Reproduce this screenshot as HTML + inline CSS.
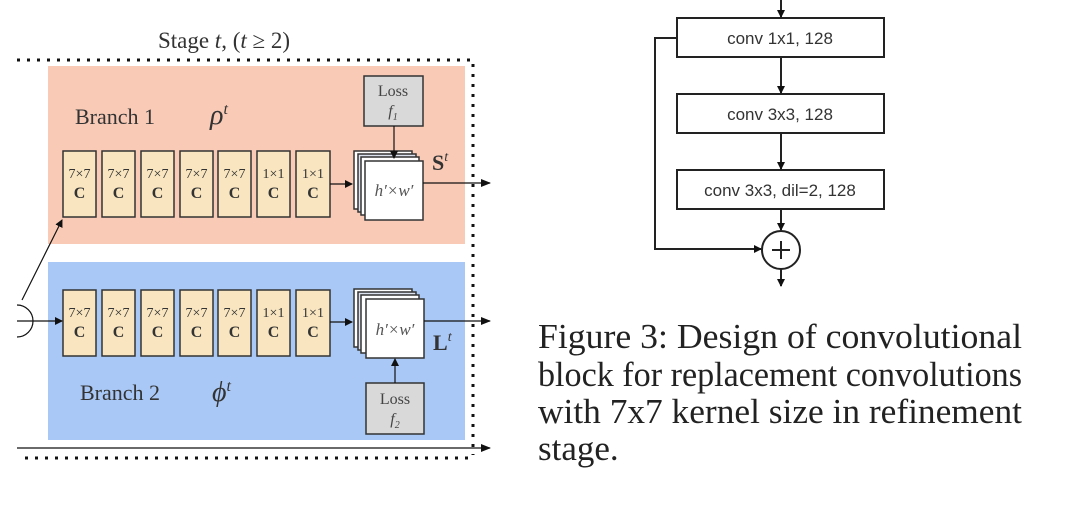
<!DOCTYPE html>
<html><head><meta charset="utf-8"><style>body{margin:0;background:#fff}svg{display:block}</style></head>
<body>
<svg width="1080" height="513" viewBox="0 0 1080 513" xmlns="http://www.w3.org/2000/svg" font-family="Liberation Serif, serif">
<defs><marker id="a" markerWidth="8" markerHeight="8" refX="7" refY="4" orient="auto" markerUnits="userSpaceOnUse"><path d="M0,0 L8,4 L0,8z" fill="#111"/></marker>
<marker id="b" markerWidth="10" markerHeight="10" refX="9" refY="5" orient="auto" markerUnits="userSpaceOnUse"><path d="M0,1 L10,5 L0,9z" fill="#111"/></marker></defs>
<text x="224" y="48" font-size="23" text-anchor="middle" fill="#333">Stage <tspan font-style="italic">t</tspan>, (<tspan font-style="italic">t</tspan> ≥ 2)</text>
<rect x="48" y="66" width="417" height="178" fill="#f9cbb7"/>
<rect x="48" y="262" width="417" height="178" fill="#a9c8f5"/>
<line x1="17" y1="60" x2="470" y2="60" stroke="#111" stroke-width="3" stroke-dasharray="3,7"/>
<line x1="473" y1="64" x2="473" y2="455" stroke="#111" stroke-width="3" stroke-dasharray="3,7"/>
<line x1="25" y1="458" x2="470" y2="458" stroke="#111" stroke-width="3" stroke-dasharray="3,7"/>
<text x="75" y="124" font-size="22" fill="#333">Branch 1</text>
<text x="210" y="124" font-size="28" font-style="italic" fill="#333">ρ<tspan font-size="16" dy="-10">t</tspan></text>
<text x="80" y="400" font-size="22" fill="#333">Branch 2</text>
<text x="212" y="401" font-size="28" font-style="italic" fill="#333">ϕ<tspan font-size="16" dy="-10">t</tspan></text>
<g stroke="#333" stroke-width="1.5" fill="#f9e6c0">
<rect x="63" y="151" width="33" height="66"/><rect x="102" y="151" width="33" height="66"/><rect x="141" y="151" width="33" height="66"/><rect x="180" y="151" width="33" height="66"/><rect x="218" y="151" width="33" height="66"/><rect x="257" y="151" width="33" height="66"/><rect x="296" y="151" width="34" height="66"/>
<rect x="63" y="290" width="33" height="66"/><rect x="102" y="290" width="33" height="66"/><rect x="141" y="290" width="33" height="66"/><rect x="180" y="290" width="33" height="66"/><rect x="218" y="290" width="33" height="66"/><rect x="257" y="290" width="33" height="66"/><rect x="296" y="290" width="34" height="66"/>
</g>
<g font-size="14" fill="#333" text-anchor="middle">
<text x="79.5" y="178">7×7</text><text x="118.5" y="178">7×7</text><text x="157.5" y="178">7×7</text><text x="196.5" y="178">7×7</text><text x="234.5" y="178">7×7</text><text x="273.5" y="178">1×1</text><text x="313" y="178">1×1</text>
<text x="79.5" y="317">7×7</text><text x="118.5" y="317">7×7</text><text x="157.5" y="317">7×7</text><text x="196.5" y="317">7×7</text><text x="234.5" y="317">7×7</text><text x="273.5" y="317">1×1</text><text x="313" y="317">1×1</text>
</g>
<g font-size="16" font-weight="bold" fill="#333" text-anchor="middle">
<text x="79.5" y="198">C</text><text x="118.5" y="198">C</text><text x="157.5" y="198">C</text><text x="196.5" y="198">C</text><text x="234.5" y="198">C</text><text x="273.5" y="198">C</text><text x="313" y="198">C</text>
<text x="79.5" y="337">C</text><text x="118.5" y="337">C</text><text x="157.5" y="337">C</text><text x="196.5" y="337">C</text><text x="234.5" y="337">C</text><text x="273.5" y="337">C</text><text x="313" y="337">C</text>
</g>
<g stroke="#333" stroke-width="1.5">
<rect x="354" y="151" width="58" height="58" fill="#fff"/><rect x="358" y="154" width="58" height="58" fill="#dde3ee"/><rect x="361" y="157" width="58" height="58" fill="#fff"/><rect x="365" y="161" width="58" height="59" fill="#fff"/>
<rect x="354" y="289" width="58" height="58" fill="#fff"/><rect x="358" y="292" width="58" height="58" fill="#dde3ee"/><rect x="361" y="295" width="58" height="58" fill="#fff"/><rect x="366" y="299" width="58" height="59" fill="#fff"/>
<rect x="364" y="76" width="59" height="50" fill="#d9d9d9"/>
<rect x="366" y="383" width="58" height="51" fill="#d9d9d9"/>
</g>
<g font-size="17" font-style="italic" fill="#555" text-anchor="middle"><text x="394" y="196">h′×w′</text><text x="395" y="335">h′×w′</text></g>
<g font-size="16" fill="#444" text-anchor="middle"><text x="393" y="96">Loss</text><text x="393" y="116" font-style="italic">f<tspan font-size="10" dy="4">1</tspan></text><text x="395" y="404">Loss</text><text x="395" y="424" font-style="italic">f<tspan font-size="10" dy="4">2</tspan></text></g>
<text x="432" y="170" font-size="22" font-weight="bold" fill="#333">S<tspan font-size="14" dy="-9" font-style="italic" font-weight="normal">t</tspan></text>
<text x="433" y="350" font-size="22" font-weight="bold" fill="#333">L<tspan font-size="14" dy="-9" font-style="italic" font-weight="normal">t</tspan></text>
<g stroke="#111" stroke-width="1.2" fill="none">
<line x1="394" y1="126" x2="394" y2="158" marker-end="url(#a)"/>
<line x1="395" y1="383" x2="395" y2="359" marker-end="url(#a)"/>
<line x1="330" y1="184" x2="352" y2="184" marker-end="url(#a)"/>
<line x1="330" y1="322" x2="352" y2="322" marker-end="url(#a)"/>
<line x1="423" y1="183" x2="490" y2="183" marker-end="url(#b)"/>
<line x1="424" y1="321" x2="490" y2="321" marker-end="url(#b)"/>
<line x1="17" y1="448" x2="490" y2="448" marker-end="url(#b)"/>
<line x1="17" y1="321" x2="62" y2="321" marker-end="url(#a)"/>
<line x1="22" y1="300" x2="62" y2="220" marker-end="url(#a)"/>
<path d="M17,305 A16,16 0 0 1 17,337"/>
</g>
<g stroke="#222" stroke-width="2" fill="#fff">
<rect x="677" y="18" width="207" height="39"/><rect x="677" y="94" width="207" height="39"/><rect x="677" y="170" width="207" height="39"/>
<circle cx="781" cy="250" r="19"/>
</g>
<g font-family="Liberation Sans, sans-serif" font-size="17" fill="#333" text-anchor="middle">
<text x="780" y="44">conv 1x1, 128</text><text x="780" y="120">conv 3x3, 128</text><text x="780" y="196">conv 3x3, dil=2, 128</text>
</g>
<g stroke="#222" stroke-width="2" fill="none">
<line x1="781" y1="0" x2="781" y2="17" marker-end="url(#a)"/>
<line x1="781" y1="57" x2="781" y2="93" marker-end="url(#a)"/>
<line x1="781" y1="133" x2="781" y2="169" marker-end="url(#a)"/>
<line x1="781" y1="209" x2="781" y2="230" marker-end="url(#a)"/>
<line x1="781" y1="269" x2="781" y2="286" marker-end="url(#a)"/>
<polyline points="677,38 655,38 655,249 761,249" marker-end="url(#a)"/>
<line x1="772" y1="250" x2="790" y2="250"/><line x1="781" y1="241" x2="781" y2="259"/>
</g>
<g font-size="35" fill="#222">
<text x="538" y="348" textLength="484" lengthAdjust="spacingAndGlyphs">Figure 3:  Design of convolutional</text>
<text x="538" y="386" textLength="484" lengthAdjust="spacingAndGlyphs">block for replacement convolutions</text>
<text x="538" y="423" textLength="484" lengthAdjust="spacingAndGlyphs">with 7x7 kernel size in refinement</text>
<text x="538" y="460">stage.</text>
</g>
</svg>
</body></html>
